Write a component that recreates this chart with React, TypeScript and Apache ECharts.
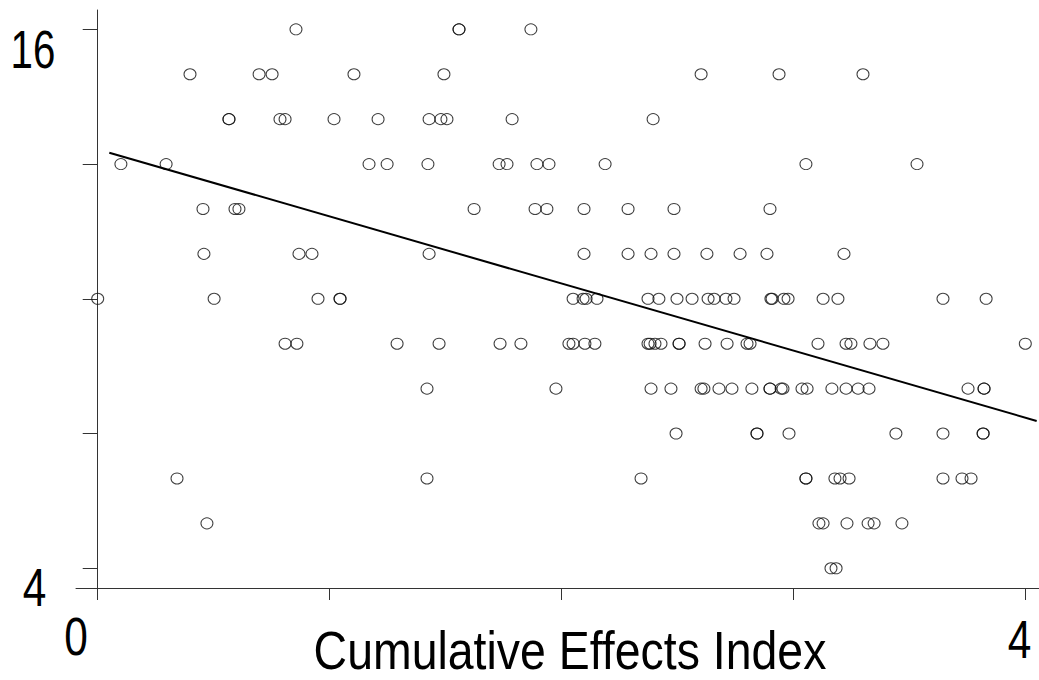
import { useEffect, useRef } from "react";
import * as echarts from "echarts";

// Cumulative Effects Index values of the observations, grouped by their score (y value)
const scoreLevels = [16, 15, 14, 13, 12, 11, 10, 9, 8, 7, 6, 5, 4];
const cei16 = [0.855, 1.558, 1.558, 1.868];
const cei15 = [0.398, 0.696, 0.752, 1.105, 1.493, 2.602, 2.938, 3.3];
const cei14 = [0.566, 0.566, 0.786, 0.808, 1.019, 1.209, 1.429, 1.48, 1.506, 1.787, 2.395];
const cei13 = [0.1, 0.295, 1.17, 1.248, 1.424, 1.731, 1.765, 1.894, 1.946, 2.188, 3.054, 3.533];
const cei12 = [0.454, 0.592, 0.609, 1.623, 1.886, 1.937, 2.097, 2.287, 2.485, 2.899];
const cei11 = [0.458, 0.868, 0.924, 1.429, 2.097, 2.287, 2.386, 2.485, 2.627, 2.77, 2.886, 3.218];
const cei10 = [
  0.0, 0.502, 0.95, 1.045, 1.045, 2.05, 2.093, 2.106, 2.153, 2.373, 2.42, 2.498, 2.563, 2.632,
  2.658, 2.709, 2.744, 2.903, 2.908, 2.959, 2.977, 3.128, 3.192, 3.645, 3.831,
];
const cei9 = [
  0.808, 0.859, 1.291, 1.472, 1.735, 1.825, 2.032, 2.05, 2.101, 2.144, 2.373, 2.382, 2.403,
  2.429, 2.507, 2.507, 2.619, 2.714, 2.8, 2.813, 3.106, 3.227, 3.248, 3.33, 3.386, 4.0,
];
const cei8 = [
  1.42, 1.976, 2.386, 2.472, 2.602, 2.614, 2.679, 2.735, 2.821, 2.899, 2.899, 2.947, 2.955,
  3.037, 3.059, 3.166, 3.227, 3.279, 3.326, 3.753, 3.822, 3.822,
];
const cei7 = [2.494, 2.843, 2.843, 2.981, 3.442, 3.645, 3.818, 3.818];
const cei6 = [0.342, 1.42, 2.343, 3.054, 3.054, 3.179, 3.201, 3.24, 3.645, 3.727, 3.766];
const cei5 = [0.471, 3.11, 3.128, 3.231, 3.322, 3.348, 3.468];
const cei4 = [3.162, 3.184];
const ceiByLevel = [cei16, cei15, cei14, cei13, cei12, cei11, cei10, cei9, cei8, cei7, cei6, cei5, cei4];

// fitted regression line (end points)
const fitX = [0.05, 4.049];
const fitY = [13.253, 7.28];

// ticks and labels
const xTicks = [0, 1, 2, 3, 4];
const yTicks = [4, 7, 10, 13, 16];
const xLabelLow = "0";
const xLabelHigh = "4";
const yLabelLow = "4";
const yLabelHigh = "16";
const xTitle = "Cumulative Effects Index";

const FONT = "'Liberation Sans', Arial, sans-serif";

export default function App() {
  const ref = useRef<HTMLDivElement>(null);
  useEffect(() => {
    const chart = echarts.init(ref.current!, null, { renderer: "svg" });
    const points: number[][] = [];
    scoreLevels.forEach((lvl, i) => {
      ceiByLevel[i].forEach((x) => points.push([x, lvl]));
    });
    const txt = (text: string, x: number, y: number, size: number, sx: number) => ({
      type: "text",
      x,
      y,
      scaleX: sx,
      style: {
        text,
        fontFamily: FONT,
        fontSize: size,
        lineHeight: Math.round(size * 0.78),
        fill: "#000",
        align: "center",
        verticalAlign: "middle",
      },
    });
    chart.setOption({
      animation: false,
      backgroundColor: "#fff",
      grid: { left: 76, right: 0, top: 10, bottom: 92 },
      xAxis: {
        type: "value",
        min: -0.0936,
        max: 4.059,
        splitLine: { show: false },
        axisLine: { show: true, lineStyle: { color: "#333", width: 1 } },
        axisTick: {
          show: true,
          customValues: xTicks,
          length: 12,
          lineStyle: { color: "#333", width: 1 },
        },
        axisLabel: { show: false },
      },
      yAxis: {
        type: "value",
        min: 3.561,
        max: 16.43,
        splitLine: { show: false },
        axisLine: { show: true, lineStyle: { color: "#333", width: 1 } },
        axisTick: {
          show: true,
          customValues: yTicks,
          length: 15,
          lineStyle: { color: "#333", width: 1 },
        },
        axisLabel: { show: false },
      },
      series: [
        {
          type: "scatter",
          data: points,
          symbol: "circle",
          symbolSize: [12, 11],
          itemStyle: { color: "transparent", borderColor: "#111", borderWidth: 1 },
          silent: true,
        },
        {
          type: "line",
          data: [
            [fitX[0], fitY[0]],
            [fitX[1], fitY[1]],
          ],
          showSymbol: false,
          lineStyle: { color: "#000", width: 2 },
          silent: true,
        },
      ],
      graphic: [
        txt(yLabelHigh, 33, 49, 53, 0.76),
        txt(yLabelLow, 34.5, 588, 53, 0.8),
        txt(xLabelLow, 76, 636.5, 53, 0.8),
        txt(xLabelHigh, 1019.5, 640, 53, 0.8),
        txt(xTitle, 570, 650, 54, 0.86),
      ],
    });
    return () => chart.dispose();
  }, []);
  return (
    <div
      ref={ref}
      style={{ position: "fixed", left: 0, top: 0, width: 1039, height: 680, background: "#fff" }}
    />
  );
}
